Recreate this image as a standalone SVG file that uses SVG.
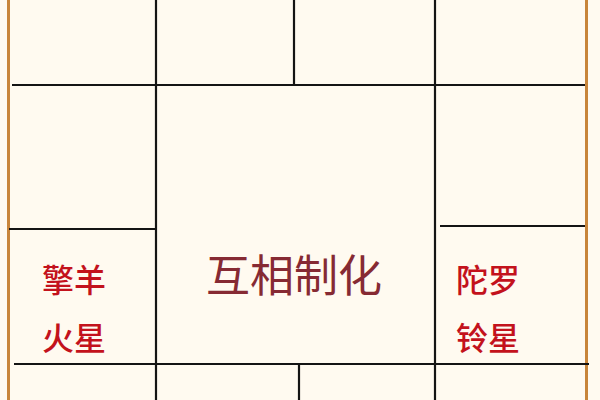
<svg xmlns="http://www.w3.org/2000/svg" width="600" height="400" viewBox="0 0 600 400">
<style>
.grid line{stroke:#141414;stroke-width:2.2;stroke-linecap:butt}
.border{stroke:#c8853a;stroke-width:3}
.star{font-family:"Noto Sans CJK SC","Noto Sans",sans-serif;font-size:32px;font-weight:500;fill:#c3121c}
.center{font-family:"Noto Sans CJK SC","Noto Sans",sans-serif;font-size:44px;font-weight:400;fill:#862a33}
</style>
<rect width="600" height="400" fill="#fffaf0"/>
<g id="border">
<line class="border" x1="8.5" y1="0" x2="8.5" y2="400"/>
<line class="border" x1="586.5" y1="0" x2="586.5" y2="400"/>
</g>
<g id="connectors" class="grid">
<line x1="12" y1="85" x2="585" y2="85"/>
<line x1="156" y1="0" x2="156" y2="400"/>
<line x1="294" y1="0" x2="294" y2="85"/>
<line x1="435" y1="0" x2="435" y2="400"/>
<line x1="9" y1="229" x2="156" y2="229"/>
<line x1="440" y1="226" x2="585" y2="226"/>
<line x1="14" y1="364" x2="589" y2="364"/>
<line x1="299" y1="364" x2="299" y2="400"/>
</g>
<g id="node-left">
<text class="star" x="42" y="292">擎羊</text>
<text class="star" x="42" y="350">火星</text>
</g>
<g id="node-center">
<text class="center" x="206" y="292">互相制化</text>
</g>
<g id="node-right">
<text class="star" x="456" y="292">陀罗</text>
<text class="star" x="456" y="350">铃星</text>
</g>
</svg>
